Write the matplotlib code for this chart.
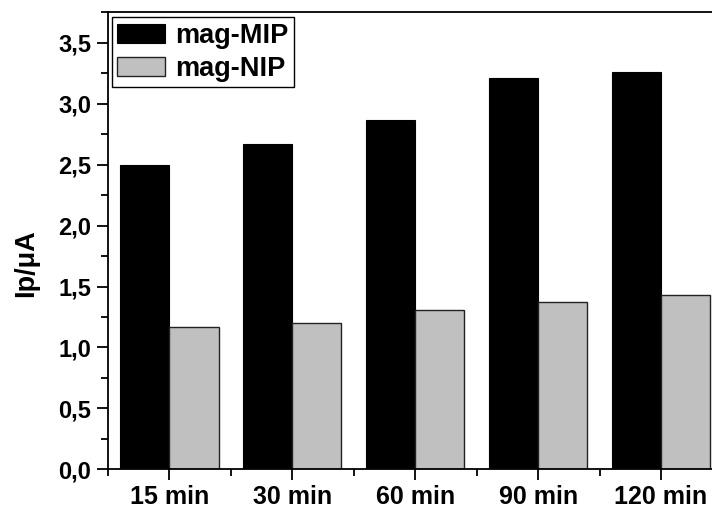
import matplotlib
matplotlib.use("Agg")
import matplotlib.pyplot as plt
from matplotlib.ticker import FixedLocator, FuncFormatter, MultipleLocator
import numpy as np

categories = ["15 min", "30 min", "60 min", "90 min", "120 min"]
mip = [2.50, 2.67, 2.87, 3.21, 3.26]
nip = [1.17, 1.20, 1.31, 1.37, 1.43]

plt.rcParams['font.family'] = ['Liberation Sans', 'DejaVu Sans']
plt.rcParams['font.weight'] = 'bold'

fig = plt.figure(figsize=(7.12, 5.08), dpi=100)
ax = fig.add_axes([0.1517, 0.0762, 0.8483, 0.8992])

x = np.arange(len(categories))
w = 0.4
ax.bar(x - w, mip, width=w, align='edge', color='black', edgecolor='black', linewidth=0.8,
       label='mag-MIP', zorder=2)
ax.bar(x, nip, width=w, align='edge', color='#c0c0c0', edgecolor='#222222', linewidth=1.0,
       label='mag-NIP', zorder=2)

ax.set_xlim(-0.5, 4.415)
ax.set_ylim(0, 3.75)

ax.set_xticks(x)
ax.set_xticklabels(categories, fontsize=18)
ax.xaxis.set_minor_locator(FixedLocator([-0.5, 0.5, 1.5, 2.5, 3.5]))
ax.yaxis.set_major_locator(MultipleLocator(0.5))
ax.yaxis.set_minor_locator(MultipleLocator(0.25))
ax.yaxis.set_major_formatter(FuncFormatter(lambda v, p: f"{v:.1f}".replace('.', ',')))

ax.tick_params(axis='y', which='major', labelsize=17, pad=4)
ax.tick_params(axis='x', which='major', pad=3)
ax.tick_params(axis='both', which='major', direction='out', length=8, width=1.3)
ax.tick_params(axis='both', which='minor', direction='out', length=5, width=1.3)

for s in ['left', 'bottom', 'top']:
    ax.spines[s].set_linewidth(1.3)
ax.spines['right'].set_visible(False)

ax.set_ylabel('Ip/μA', fontsize=19.5, fontweight='bold')
ax.yaxis.set_label_coords(-0.114, 0.451)

leg = ax.legend(loc='upper left', bbox_to_anchor=(0.002, 0.995), fontsize=19.5,
                frameon=True, fancybox=False, edgecolor='black', framealpha=1,
                handlelength=1.75, handleheight=0.7, borderpad=0.2,
                labelspacing=0.25, handletextpad=0.4, borderaxespad=0.1)
leg.get_frame().set_linewidth(1.0)
for t in leg.get_texts():
    t.set_fontweight('bold')

fig.savefig('out.png', dpi=100)
